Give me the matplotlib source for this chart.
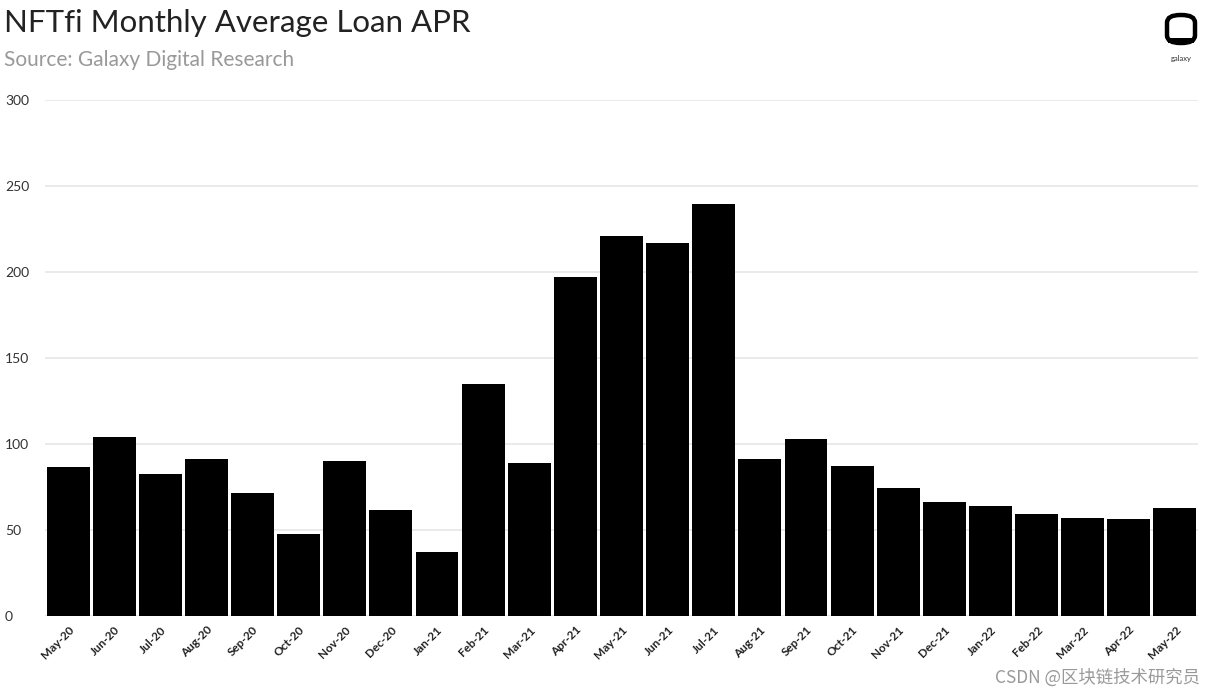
import matplotlib
matplotlib.use("Agg")
import matplotlib.pyplot as plt
from matplotlib.patches import FancyBboxPatch, Rectangle

months = ["May-20", "Jun-20", "Jul-20", "Aug-20", "Sep-20", "Oct-20", "Nov-20", "Dec-20",
          "Jan-21", "Feb-21", "Mar-21", "Apr-21", "May-21", "Jun-21", "Jul-21", "Aug-21",
          "Sep-21", "Oct-21", "Nov-21", "Dec-21", "Jan-22", "Feb-22", "Mar-22", "Apr-22", "May-22"]
apr = [86.5, 104.3, 82.4, 91.1, 71.3, 47.9, 90.1, 61.4, 37.0, 134.7, 89.0, 197.3, 221.1,
       216.9, 239.5, 91.5, 102.7, 87.2, 74.6, 66.1, 63.8, 59.1, 57.2, 56.4, 62.6]
yticks = [0, 50, 100, 150, 200, 250, 300]

W, H = 1218, 694
fig = plt.figure(figsize=(W / 100, H / 100), dpi=100)
fig.patch.set_facecolor("white")

ax = fig.add_axes([45 / W, 1 - 616 / H, (1198 - 45) / W, (616 - 100) / H])
x = list(range(len(months)))
ax.bar(x, apr, width=0.93, color="black", zorder=3)
ax.set_xlim(-0.5, len(months) - 0.5)
ax.set_ylim(0, 300)
ax.set_yticks(yticks)
ax.set_yticklabels([str(v) for v in yticks], fontsize=10, color="#333333", family="Lato",
                   ha="left")
ax.tick_params(axis="y", length=0, pad=40 * 0.72)
ax.set_xticks(x)
ax.set_xticklabels(months, rotation=45, ha="right", va="top", rotation_mode="anchor",
                   fontsize=8.5, color="#222222", family="Lato", fontweight="bold")
ax.tick_params(axis="x", length=0, pad=6)
ax.grid(axis="y", color="#e6e6e6", linewidth=1.2, zorder=0)
for s in ax.spines.values():
    s.set_visible(False)

fig.text(4 / W, 1 - 23 / H, "NFTfi Monthly Average Loan APR", fontsize=22.5, color="#222222",
         family="Lato", va="center", ha="left")
fig.text(4 / W, 1 - 60 / H, "Source: Galaxy Digital Research", fontsize=15, color="#999999",
         family="Lato", va="center", ha="left")

# logo
lx, ly = 1181, 29
logo = FancyBboxPatch(((lx - 14) / W, 1 - (ly + 14) / H), 28 / W, 28 / H,
                      boxstyle="round,pad=0,rounding_size=0.011", transform=fig.transFigure,
                      facecolor="white", edgecolor="black", linewidth=3.2)
fig.add_artist(logo)
fig.add_artist(Rectangle(((lx - 13) / W, 1 - (ly + 14) / H), 26 / W, 5 / H,
                         transform=fig.transFigure, facecolor="black", edgecolor="none"))
fig.text(lx / W, 1 - 58 / H, "galaxy", fontsize=5.5, color="#333333", ha="center", va="center",
         family="Lato")

fig.text(1200 / W, 1 - 678 / H, "CSDN @区块链技术研究员", fontsize=12.5, color="#999999",
         ha="right", va="center", family=["Noto Sans CJK SC", "DejaVu Sans"])

fig.savefig("out.png", dpi=100, facecolor="white")
